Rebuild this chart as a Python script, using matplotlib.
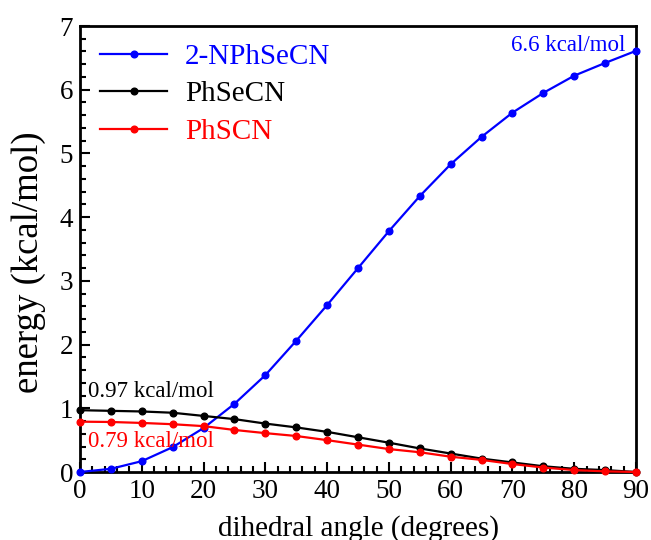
import matplotlib
matplotlib.use('Agg')
import matplotlib.pyplot as plt
from matplotlib.ticker import MultipleLocator

plt.rcParams['font.family'] = ['Liberation Serif', 'DejaVu Serif']
plt.rcParams['mathtext.fontset'] = 'stix'

# dihedral scan (degrees) and relative energies (kcal/mol)
angle = [0, 5, 10, 15, 20, 25, 30, 35, 40, 45, 50, 55, 60, 65, 70, 75, 80, 85, 90]
e_nphsecn = [0.0, 0.05, 0.17, 0.39, 0.69, 1.07, 1.52, 2.06, 2.62, 3.20, 3.78,
             4.33, 4.83, 5.26, 5.64, 5.95, 6.22, 6.42, 6.61]
e_phsecn = [0.97, 0.96, 0.95, 0.93, 0.88, 0.83, 0.76, 0.70, 0.63, 0.545, 0.46,
            0.37, 0.29, 0.21, 0.15, 0.09, 0.05, 0.03, 0.0]
e_phscn = [0.79, 0.785, 0.77, 0.75, 0.72, 0.66, 0.61, 0.565, 0.50, 0.43, 0.36,
           0.31, 0.24, 0.19, 0.125, 0.07, 0.03, 0.01, 0.0]

series = [
    ('2-NPhSeCN', e_nphsecn, '#0000ff'),
    ('PhSeCN', e_phsecn, '#000000'),
    ('PhSCN', e_phscn, '#ff0000'),
]

fig = plt.figure(figsize=(6.51, 5.40), dpi=100)
ax = fig.add_axes([80 / 651, 1 - 472 / 540, 556 / 651, 446 / 540])

for label, vals, color in series:
    ax.plot(angle, vals, color=color, lw=1.6, marker='o', ms=4.8,
            label=label, clip_on=False, zorder=3)

ax.set_xlim(0, 90)
ax.set_ylim(0, 7)
ax.xaxis.set_major_locator(MultipleLocator(10))
ax.xaxis.set_minor_locator(MultipleLocator(2))
ax.yaxis.set_major_locator(MultipleLocator(1))
ax.yaxis.set_minor_locator(MultipleLocator(0.2))
ax.tick_params(which='both', direction='in', top=False, right=False,
               labelsize=19.5, width=1.5, pad=5)
ax.tick_params(which='major', length=7)
ax.tick_params(which='minor', length=4)
for sp in ax.spines.values():
    sp.set_linewidth(2)

ax.set_xlabel('dihedral angle (degrees)', fontsize=21, labelpad=8)
ax.set_ylabel('energy (kcal/mol)', fontsize=26.5)
ax.yaxis.set_label_coords(-0.062, 0.47)

leg = ax.legend(loc='upper left', frameon=False, fontsize=21,
                handlelength=2.3, handletextpad=0.6, labelspacing=0.38,
                borderaxespad=0.2, bbox_to_anchor=(0.005, 1.0))
for txt, (_, _, color) in zip(leg.get_texts(), series):
    txt.set_color(color)

ax.text(88.3, 6.6, '6.6 kcal/mol', color='#0000ff', fontsize=16.5,
        ha='right', va='baseline')
ax.text(1.3, 1.18, '0.97 kcal/mol', color='#000000', fontsize=16.5,
        ha='left', va='baseline')
ax.text(1.3, 0.39, '0.79 kcal/mol', color='#ff0000', fontsize=16.5,
        ha='left', va='baseline')

fig.savefig('out.png', dpi=100)
